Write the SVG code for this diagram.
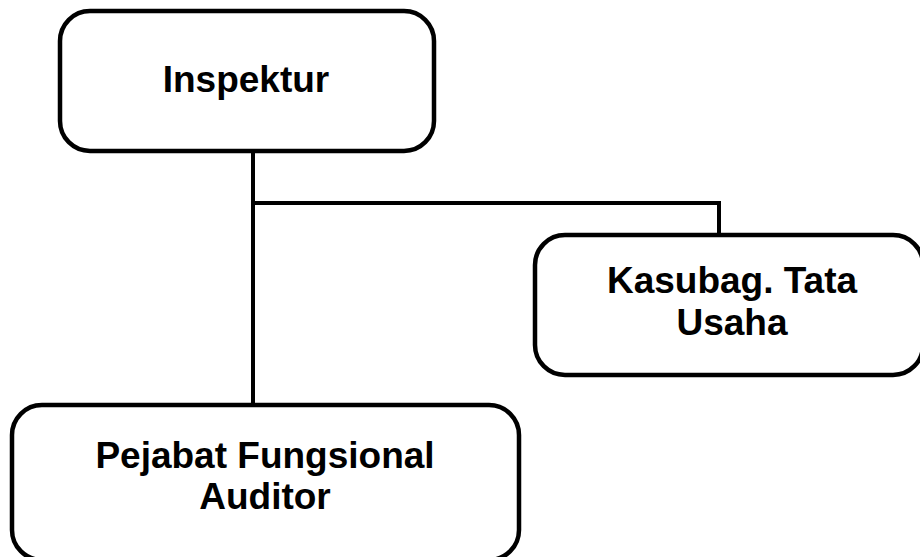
<svg xmlns="http://www.w3.org/2000/svg" width="920" height="557" viewBox="0 0 920 557">
<style>
.box{fill:#fff;stroke:#000;stroke-width:4.5}
.lbl{font-family:"Liberation Sans",Arial,sans-serif;font-weight:bold;font-size:37px;fill:#000;text-anchor:middle}
.conn{fill:none;stroke:#000;stroke-width:4}
</style>
<rect width="920" height="557" fill="#fff"/>
<g id="connectors">
<path class="conn" d="M253 152 V406"/>
<path class="conn" d="M253 203 H719 V235"/>
</g>
<g id="inspektur">
<rect class="box" x="60" y="11" width="374" height="140" rx="30"/>
<text class="lbl" x="246" y="92">Inspektur</text>
</g>
<g id="kasubag">
<rect class="box" x="535" y="235" width="388" height="140" rx="30"/>
<text class="lbl" x="732" y="293">Kasubag. Tata</text>
<text class="lbl" x="732" y="335">Usaha</text>
</g>
<g id="pejabat">
<rect class="box" x="12" y="405" width="507" height="155" rx="30"/>
<text class="lbl" x="265" y="468">Pejabat Fungsional</text>
<text class="lbl" x="265" y="509">Auditor</text>
</g>
</svg>
